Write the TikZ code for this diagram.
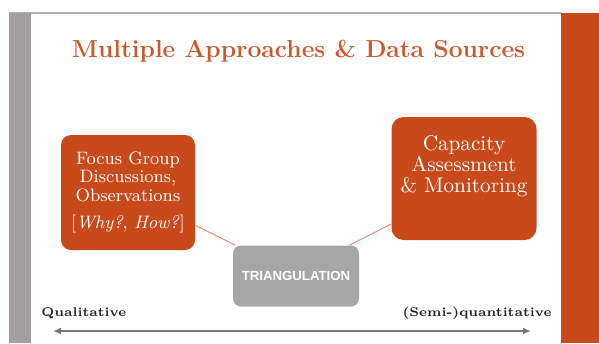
\documentclass[tikz,border=0pt]{standalone}
\usepackage{fontspec}
\newfontfamily\trifont{Liberation Sans}
\usepackage{tikz}
\usetikzlibrary{positioning, arrows.meta, calc}
\definecolor{slideorange}{RGB}{200,74,27}
\definecolor{titleorange}{RGB}{204,88,45}
\definecolor{bargray}{RGB}{163,159,160}
\definecolor{rulegray}{RGB}{175,175,175}
\definecolor{trigray}{RGB}{166,166,166}
\definecolor{linkorange}{RGB}{226,146,115}
\definecolor{axisgray}{RGB}{120,120,120}
\definecolor{labelgray}{RGB}{35,35,35}

\begin{document}
\begin{tikzpicture}[x=0.5pt, y=-0.5pt,
  obox/.style={rectangle, rounded corners=5pt, fill=slideorange,
               text=white, align=center},
  tribox/.style={rectangle, rounded corners=4pt, fill=trigray, text=white,
                 minimum width=63pt, minimum height=30.5pt,
                 font=\trifont\bfseries\fontsize{6.6}{8}\selectfont},
  link/.style={draw=linkorange, line width=0.5pt},
  axis/.style={{Latex[length=4pt,width=3.5pt]}-{Latex[length=4pt,width=3.5pt]},
               draw=axisgray, line width=1.2pt},
  endlbl/.style={font=\bfseries\fontsize{6.3}{7.5}\selectfont, text=labelgray,
                 inner sep=0pt}
]
\fill[white] (0,0) rectangle (599,343);
\useasboundingbox (0,0) rectangle (599,343);

% Slide frame
\fill[rulegray] (9,12) rectangle (561,14);
\fill[bargray] (9,13) rectangle (30.5,343);
\fill[slideorange] (561,13) rectangle (599,343);

% Title
\node[font=\bfseries\fontsize{12.3}{14}\selectfont, text=titleorange, anchor=base]
  (title) at (298.5,57) {Multiple Approaches \& Data Sources};

% Boxes
\node[obox, minimum width=67pt, minimum height=57.5pt,
      font=\fontsize{9}{9.2}\selectfont] (fgd) at (128,192.5)
  {Focus Group\\Discussions,\\Observations\\[4.7pt]{[}\textit{Why?}, \textit{How?}{]}};
\node[obox, rounded corners=6pt, minimum width=72.5pt, minimum height=61.5pt]
  (cam) at (464,178.5) {};
\node[font=\fontsize{10.6}{10.6}\selectfont, text=white, align=center]
  (camtxt) at ($(cam.center)+(0,-12)$) {Capacity\\Assessment\\\& Monitoring};
\node[tribox] (tri) at (296,276) {TRIANGULATION};

% Links
\draw[link] (fgd.-26) -- (tri.153);
\draw[link] (cam.212) -- (tri.30);

% Axis
\coordinate (axl) at (53,331);
\coordinate (axr) at (531,331);
\draw[axis] (axl) -- (axr);
\node[endlbl, anchor=west] (qual) at (41,313) {Qualitative};
\node[endlbl, anchor=east] (quant) at (552,313) {(Semi-)quantitative};

\end{tikzpicture}
\end{document}
